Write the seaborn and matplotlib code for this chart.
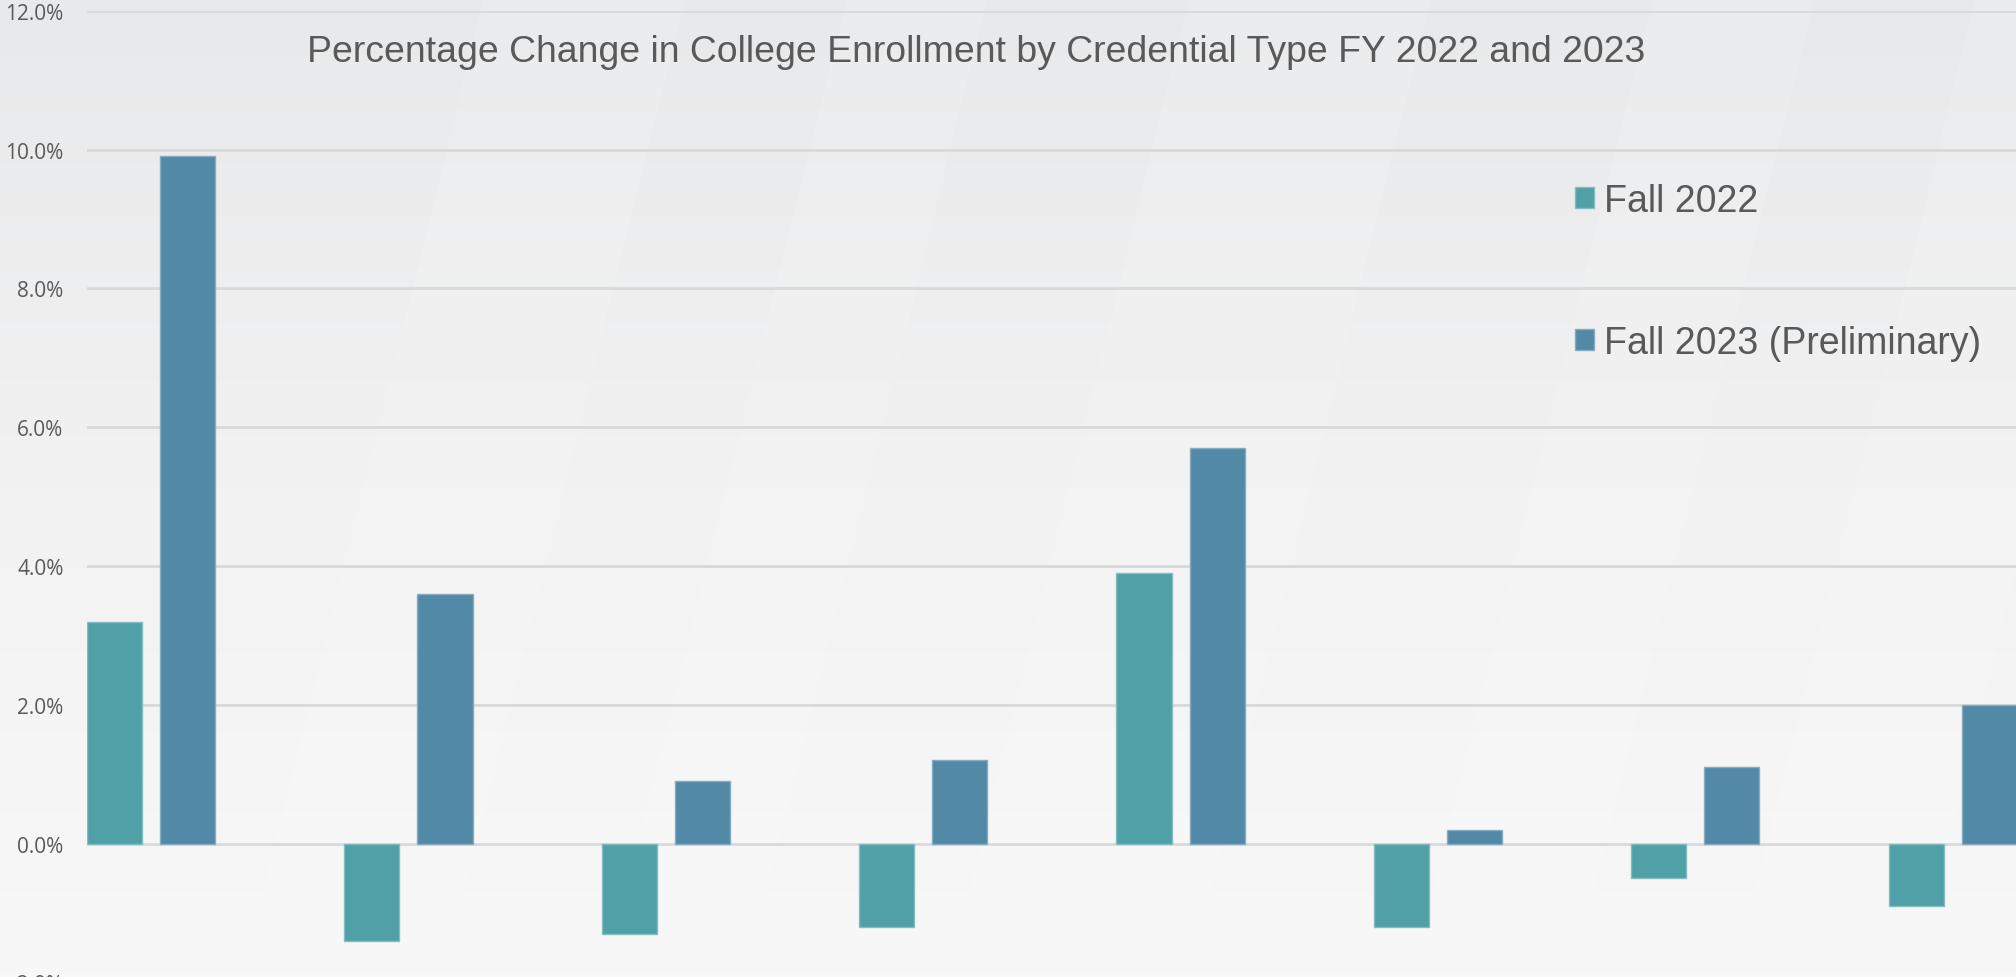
import numpy as np
import pandas as pd
import matplotlib.pyplot as plt
from matplotlib.colors import LinearSegmentedColormap, to_rgb
from matplotlib.patches import Polygon
import seaborn as sns

# values (percent change)
credentials = ['Cred 1', 'Cred 2', 'Cred 3', 'Cred 4', 'Cred 5', 'Cred 6', 'Cred 7', 'Cred 8']
fall_2022 = [3.2, -1.4, -1.3, -1.2, 3.9, -1.2, -0.5, -0.9]
fall_2023 = [9.9, 3.6, 0.9, 1.2, 5.7, 0.2, 1.1, 2.0]
series = ['Fall 2022', 'Fall 2023 (Preliminary)']
y_ticks = [-2, 0, 2, 4, 6, 8, 10, 12]
title = 'Percentage Change in College Enrollment by Credential Type FY 2022 and 2023'

COLORS = ['#50A0A7', '#5189A6']
TEXT = '#595959'

df = pd.DataFrame({
    'credential': credentials * 2,
    'series': [series[0]] * len(credentials) + [series[1]] * len(credentials),
    'change': fall_2022 + fall_2023,
})

sns.set_theme(style='white')
plt.rcParams['font.family'] = ['Open Sans', 'DejaVu Sans']

W, H = 2016, 978
fig = plt.figure(figsize=(W / 100, H / 100), dpi=100)

# soft grey gradient background with faint diagonal streaks
bg = fig.add_axes([0, 0, 1, 1], zorder=-10)
cmap = LinearSegmentedColormap.from_list('bg', ['#e8e9ea', '#f2f2f3', '#f8f8f8'])
bg.imshow(np.linspace(0, 1, 256)[:, None], aspect='auto', cmap=cmap,
          extent=[0, 1, 0, 1], origin='upper')
for x0, w in [(0.12, 0.10), (0.30, 0.07), (0.47, 0.12), (0.70, 0.08), (0.86, 0.09)]:
    bg.add_patch(Polygon([(x0, 0), (x0 + w, 0), (x0 + w + 0.12, 1), (x0 + 0.12, 1)],
                         closed=True, color='white', alpha=0.12, lw=0))
bg.set_xlim(0, 1)
bg.set_ylim(0, 1)
bg.axis('off')

# plot area runs off the bottom/right edges like the screenshot
top_px, bot_px, left_px = 11.7, 983.5, 87
ax = fig.add_axes([left_px / W, 1 - bot_px / H, (W - left_px) / W, (bot_px - top_px) / H])
ax.patch.set_alpha(0)

sns.barplot(data=df, x='credential', y='change', hue='series', hue_order=series,
            palette=COLORS, saturation=1, width=0.568, gap=0.246,
            errorbar=None, ax=ax)

# thin lighter outline around each bar
for bar in ax.patches:
    r, g, b = to_rgb(bar.get_facecolor())
    bar.set_edgecolor((r + (1 - r) * 0.3, g + (1 - g) * 0.3, b + (1 - b) * 0.3))
    bar.set_linewidth(1)

ax.set_xlim(-0.249, 7.246)
ax.set_ylim(-2, 12)
ax.set_yticks(y_ticks)
ax.set_yticklabels([f'{v:.1f}%' for v in y_ticks])
ax.set_xticks([])
ax.set_xlabel('')
ax.set_ylabel('')
ax.grid(axis='y', color='#d9d9d9', linewidth=2)
ax.set_axisbelow(True)
for s in ax.spines.values():
    s.set_visible(False)
ax.tick_params(axis='y', length=0, labelsize=15, labelcolor=TEXT, pad=17)

handles, labels = ax.get_legend_handles_labels()
ax.legend(handles, labels, loc='upper left',
          bbox_to_anchor=(1575 / W, 1 - 184 / H), bbox_transform=fig.transFigure,
          frameon=False, prop={'family': 'Liberation Sans', 'size': 27},
          labelcolor=TEXT, handlelength=0.5, handleheight=0.5,
          handletextpad=0.27, labelspacing=2.82, borderpad=0, borderaxespad=0)

fig.text(976 / W, 1 - 52 / H, title, ha='center', va='center',
         fontsize=26.9, color=TEXT, family='Liberation Sans')

plt.savefig('out.png', dpi=100)
